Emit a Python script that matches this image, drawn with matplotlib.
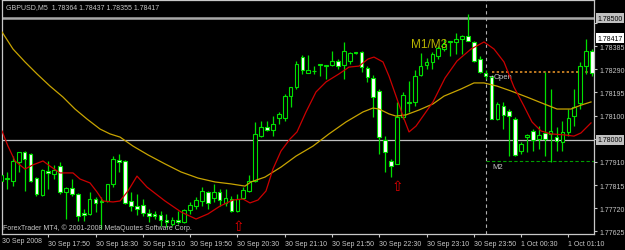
import matplotlib.pyplot as plt
from matplotlib import transforms

plt.rcParams['font.family'] = ['Liberation Sans', 'DejaVu Sans']

# GBPUSD M5, bars from 30 Sep 17:10 to 1 Oct 01:30
bar_open = [1.77832, 1.77840, 1.77832, 1.77910, 1.77951, 1.77943, 1.77844, 1.77775, 1.77873, 1.77861,
            1.77893, 1.77787, 1.77803, 1.77779, 1.77701, 1.77697, 1.77758, 1.77750, 1.77750, 1.77820,
            1.77918, 1.77914, 1.77750, 1.77729, 1.77734, 1.77701, 1.77697, 1.77693, 1.77672, 1.77656,
            1.77672, 1.77664, 1.77713, 1.77729, 1.77750, 1.77787, 1.77762, 1.77787, 1.77742, 1.77758,
            1.77709, 1.77762, 1.77791, 1.77832, 1.78016, 1.78053, 1.78041, 1.78090, 1.78090, 1.78180,
            1.78217, 1.78340, 1.78275, 1.78283, 1.78308, 1.78303, 1.78308, 1.78324, 1.78308, 1.78324,
            1.78357, 1.78361, 1.78295, 1.78254, 1.78201, 1.78000, 1.77914, 1.77902, 1.78094, 1.78152,
            1.78156, 1.78267, 1.78308, 1.78320, 1.78344, 1.78373, 1.78402, 1.78402, 1.78414, 1.78426,
            1.78402, 1.78332, 1.78275, 1.78258, 1.78086, 1.78139, 1.78119, 1.78086, 1.77955, 1.78012,
            1.78037, 1.78004, 1.78029, 1.78025, 1.78012, 1.77992, 1.78033, 1.78098, 1.78152, 1.78303,
            1.78365]
bar_high = [1.77934, 1.77869, 1.77934, 1.77951, 1.77955, 1.77947, 1.77848, 1.77881, 1.77914, 1.77898,
            1.77910, 1.77807, 1.77840, 1.77783, 1.77717, 1.77787, 1.77766, 1.77766, 1.77820, 1.77934,
            1.77943, 1.77918, 1.77787, 1.77779, 1.77758, 1.77717, 1.77709, 1.77709, 1.77697, 1.77684,
            1.77709, 1.77717, 1.77746, 1.77766, 1.77807, 1.77791, 1.77820, 1.77799, 1.77799, 1.77770,
            1.77779, 1.77807, 1.77857, 1.78074, 1.78078, 1.78078, 1.78098, 1.78115, 1.78189, 1.78217,
            1.78324, 1.78349, 1.78349, 1.78303, 1.78312, 1.78308, 1.78365, 1.78332, 1.78402, 1.78361,
            1.78361, 1.78365, 1.78303, 1.78267, 1.78209, 1.78016, 1.77922, 1.78156, 1.78197, 1.78242,
            1.78287, 1.78357, 1.78336, 1.78361, 1.78385, 1.78414, 1.78406, 1.78439, 1.78431, 1.78517,
            1.78406, 1.78344, 1.78287, 1.78267, 1.78156, 1.78156, 1.78127, 1.78094, 1.77992, 1.78025,
            1.78045, 1.78057, 1.78279, 1.78209, 1.78053, 1.78078, 1.78127, 1.78209, 1.78320, 1.78414,
            1.78373]
bar_low = [1.77811, 1.77799, 1.77811, 1.77869, 1.77791, 1.77828, 1.77770, 1.77770, 1.77799, 1.77840,
           1.77779, 1.77676, 1.77770, 1.77668, 1.77668, 1.77693, 1.77705, 1.77635, 1.77746, 1.77807,
           1.77869, 1.77738, 1.77709, 1.77693, 1.77688, 1.77664, 1.77676, 1.77647, 1.77643, 1.77647,
           1.77656, 1.77660, 1.77697, 1.77717, 1.77729, 1.77717, 1.77746, 1.77729, 1.77729, 1.77705,
           1.77705, 1.77758, 1.77787, 1.77828, 1.78012, 1.78037, 1.78016, 1.78066, 1.78078, 1.78135,
           1.78209, 1.78271, 1.78275, 1.78271, 1.78262, 1.78250, 1.78303, 1.78291, 1.78250, 1.78312,
           1.78353, 1.78279, 1.78238, 1.78094, 1.77943, 1.77869, 1.77848, 1.77902, 1.78086, 1.78115,
           1.78139, 1.78262, 1.78291, 1.78291, 1.78332, 1.78365, 1.78344, 1.78353, 1.78353, 1.78406,
           1.78320, 1.78275, 1.78250, 1.78086, 1.78082, 1.78045, 1.77934, 1.77934, 1.77943, 1.77951,
           1.77955, 1.77963, 1.77934, 1.77910, 1.77955, 1.77955, 1.78016, 1.78057, 1.78127, 1.78271,
           1.78262]
bar_close = [1.77857, 1.77844, 1.77914, 1.77951, 1.77922, 1.77832, 1.77779, 1.77877, 1.77865, 1.77877,
             1.77787, 1.77803, 1.77779, 1.77688, 1.77693, 1.77758, 1.77742, 1.77746, 1.77820, 1.77922,
             1.77910, 1.77742, 1.77729, 1.77717, 1.77701, 1.77688, 1.77688, 1.77672, 1.77664, 1.77672,
             1.77664, 1.77713, 1.77734, 1.77754, 1.77791, 1.77742, 1.77787, 1.77754, 1.77762, 1.77709,
             1.77758, 1.77795, 1.77832, 1.78025, 1.78053, 1.78041, 1.78066, 1.78107, 1.78180, 1.78217,
             1.78312, 1.78287, 1.78287, 1.78283, 1.78312, 1.78308, 1.78324, 1.78303, 1.78365, 1.78357,
             1.78361, 1.78299, 1.78258, 1.78176, 1.78012, 1.77951, 1.77893, 1.78094, 1.78185, 1.78156,
             1.78262, 1.78303, 1.78320, 1.78353, 1.78377, 1.78394, 1.78406, 1.78414, 1.78426, 1.78406,
             1.78324, 1.78279, 1.78262, 1.78086, 1.78148, 1.78103, 1.78098, 1.77939, 1.77984, 1.78021,
             1.78000, 1.78021, 1.78004, 1.78037, 1.77996, 1.78033, 1.78090, 1.78135, 1.78303, 1.78365,
             1.78275]

# moving averages (bar position, price)
ma_slow_x = [0.17, 2.03, 4.06, 6.09, 8.29, 10.49, 12.52, 14.55, 16.75, 18.44, 20.14, 22.34, 24.87,
             27.75, 30.46, 33.33, 36.21, 38.92, 41.29, 42.30, 44.67, 47.38, 49.92, 52.79, 55.50,
             58.38, 61.25, 62.94, 63.96, 65.65, 66.84, 68.53, 70.73, 73.10, 74.96, 77.83, 80.03,
             81.73, 83.93, 86.29, 89.00, 91.88, 94.08, 96.45, 98.14, 99.83]
ma_slow = [1.78443, 1.78373, 1.78320, 1.78271, 1.78221, 1.78176, 1.78127, 1.78086, 1.78045, 1.78025,
           1.78012, 1.77975, 1.77939, 1.77902, 1.77869, 1.77844, 1.77828, 1.77820, 1.77811, 1.77828,
           1.77848, 1.77889, 1.77934, 1.77975, 1.78025, 1.78074, 1.78115, 1.78131, 1.78127, 1.78107,
           1.78098, 1.78103, 1.78123, 1.78148, 1.78180, 1.78209, 1.78234, 1.78234, 1.78221, 1.78201,
           1.78176, 1.78148, 1.78127, 1.78127, 1.78143, 1.78156]
ma_fast_x = [0.17, 1.18, 2.37, 4.06, 5.41, 7.11, 8.29, 9.98, 12.18, 13.37, 15.06, 16.24, 17.26, 18.95,
             20.14, 21.49, 23.01, 24.70, 27.75, 30.46, 33.00, 35.03, 37.06, 39.26, 40.95, 42.13,
             43.49, 44.84, 46.02, 47.38, 48.90, 50.08, 51.61, 53.30, 54.99, 57.19, 58.88, 60.58,
             62.10, 63.11, 64.64, 65.65, 66.84, 68.02, 69.04, 70.22, 71.41, 73.10, 75.13, 77.16,
             79.53, 81.73, 83.42, 85.11, 86.80, 88.49, 89.85, 91.37, 93.06, 95.26, 96.95, 98.14, 99.83]
ma_fast = [1.78037, 1.77975, 1.77914, 1.77881, 1.77898, 1.77914, 1.77893, 1.77865, 1.77865, 1.77840,
           1.77824, 1.77787, 1.77750, 1.77746, 1.77750, 1.77791, 1.77852, 1.77807, 1.77750, 1.77705,
           1.77676, 1.77697, 1.77729, 1.77754, 1.77758, 1.77742, 1.77754, 1.77791, 1.77881, 1.77955,
           1.78004, 1.78033, 1.78115, 1.78197, 1.78238, 1.78271, 1.78299, 1.78303, 1.78332, 1.78340,
           1.78320, 1.78262, 1.78180, 1.78098, 1.78033, 1.78057, 1.78098, 1.78156, 1.78254, 1.78324,
           1.78373, 1.78402, 1.78373, 1.78320, 1.78217, 1.78139, 1.78074, 1.78037, 1.78025, 1.78021,
           1.78016, 1.78029, 1.78070]

# 1.78005 and 1.78480 sit under the price boxes in the original
price_ticks = [1.77625, 1.77720, 1.77815, 1.77910, 1.78005, 1.78100, 1.78195, 1.78290, 1.78385, 1.78480]
price_labels = ['1.77625', '1.77720', '1.77815', '1.77910', '', '1.78100', '1.78195',
                '1.78290', '1.78385', '']
time_ticks = [8, 16, 24, 32, 40, 48, 56, 64, 72, 80, 88, 96]
time_labels = ['30 Sep 17:50', '30 Sep 18:30', '30 Sep 19:10', '30 Sep 19:50', '30 Sep 20:30',
               '30 Sep 21:10', '30 Sep 21:50', '30 Sep 22:30', '30 Sep 23:10', '30 Sep 23:50',
               '1 Oct 00:30', '1 Oct 01:10']

GREEN = '#00e000'
FG = '#c8c8c8'

fig = plt.figure(figsize=(6.25, 2.51), dpi=100, facecolor='black')
ax = fig.add_axes([2 / 625, 16 / 251, 592 / 625, 234 / 251], facecolor='black')

idx = list(range(len(bar_open)))
ax.vlines(idx, bar_low, bar_high, color=GREEN, lw=0.9, zorder=2)
bottoms = [min(o, c) for o, c in zip(bar_open, bar_close)]
heights = [abs(c - o) for o, c in zip(bar_open, bar_close)]
faces = ['black' if c > o else 'white' for o, c in zip(bar_open, bar_close)]
ax.bar(idx, heights, bottom=bottoms, width=0.62, color=faces, edgecolor=GREEN, lw=0.8, zorder=3)

ax.plot(ma_slow_x, ma_slow, color='#c8a400', lw=0.9, zorder=4)
ax.plot(ma_fast_x, ma_fast, color='#cc0000', lw=0.9, zorder=4)

# user objects
ax.axhline(1.78500, color='#a8a8a8', lw=1.8, zorder=1)
ax.axhline(1.78000, color='#c0c0c0', lw=0.9, zorder=1)
ax.axvline(82, color='#b0b0b0', lw=0.8, ls=(0, (3, 3)), zorder=1)
ax.hlines(1.78279, 83, 100.4, color='#c07a20', lw=1.4, ls=(0, (1.2, 1.2)), zorder=1)
ax.hlines(1.77914, 82, 100.4, color='#00a000', lw=0.8, ls=(0, (3, 2)), zorder=1)

ax.text(69.4, 1.78394, 'M1/M3', color='#b8b400', fontsize=8.5, va='center', ha='left')
ax.text(83.4, 1.78262, 'Open', color=FG, fontsize=5.5, va='center', ha='left')
ax.text(82.3, 1.78268, '\u2192', color='white', fontsize=5, va='center', ha='left')
ax.text(83.2, 1.77893, 'M2', color=FG, fontsize=5.5, va='center', ha='left')
ax.text(67, 1.77811, '\u21e7', color='#e00000', fontsize=10, va='center', ha='center',
        family='DejaVu Sans')
ax.text(40.1, 1.77647, '\u21e7', color='#e00000', fontsize=10, va='center', ha='center',
        family='DejaVu Sans')

ax.text(0.006, 0.985, 'GBPUSD,M5  1.78364 1.78437 1.78355 1.78417', color=FG, fontsize=5,
        transform=ax.transAxes, va='top', ha='left')
ax.text(0.002, 0.012, 'ForexTrader MT4, \u00a9 2001-2008 MetaQuotes Software Corp.', color=FG,
        fontsize=5, transform=ax.transAxes, va='bottom', ha='left')

ax.set_xlim(0.17, 100.34)
ax.set_ylim(1.776146, 1.78574)

ax.yaxis.tick_right()
ax.set_yticks(price_ticks)
ax.set_yticklabels(price_labels)
ax.set_xticks(time_ticks)
ax.set_xticklabels(time_labels, ha='left')
ax.tick_params(colors=FG, labelsize=5, length=2.5, width=0.8, pad=1.5)
for s in ax.spines.values():
    s.set_color(FG)
    s.set_linewidth(0.9)

# first date at left edge
ax.text(0.0, -0.012, '30 Sep 2008', color=FG, fontsize=5, transform=ax.transAxes,
        va='top', ha='left')

# price boxes on the axis
tr = transforms.blended_transform_factory(ax.transAxes, ax.transData)
box_kw = dict(fontsize=5, va='center', ha='left', transform=tr, clip_on=False, zorder=5)
ax.text(1.006, 1.78500, '1.78500', color='black',
        bbox=dict(facecolor='#c0c0c0', edgecolor='none', pad=1.2), **box_kw)
ax.text(1.006, 1.78000, '1.78000', color='black',
        bbox=dict(facecolor='#c0c0c0', edgecolor='none', pad=1.2), **box_kw)
ax.text(1.006, 1.78417, '1.78417', color='black',
        bbox=dict(facecolor='white', edgecolor='none', pad=1.2), **box_kw)

fig.savefig('out.png', dpi=100, facecolor='black')
